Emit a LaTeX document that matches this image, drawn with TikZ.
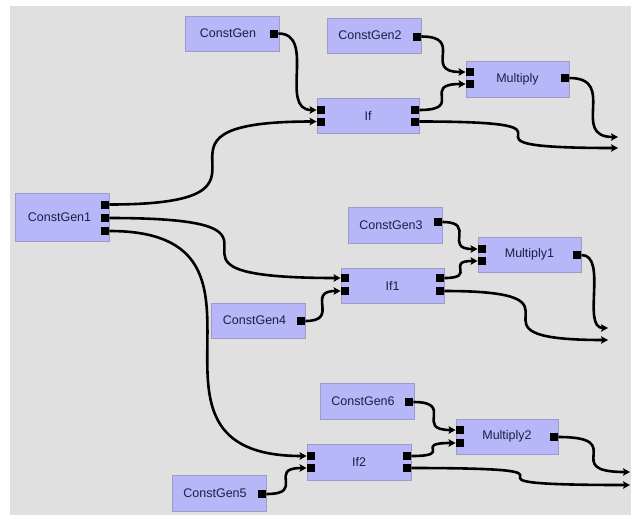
\documentclass[tikz,border=0pt]{standalone}
\usepackage{fontspec}
\setmainfont{Liberation Sans}
\usetikzlibrary{arrows.meta}
\definecolor{canvas}{HTML}{E0E0E0}
\definecolor{boxfill}{HTML}{B6B6F8}
\definecolor{boxedge}{HTML}{9C9CC4}
\definecolor{boxtext}{HTML}{1E1E46}
\tikzset{
  block/.style={rectangle, fill=boxfill, draw=boxedge, line width=0.8pt,
    inner sep=0pt, minimum height=35pt, text=boxtext,
    font=\fontsize{12.5}{14}\selectfont,
    path picture={\draw[white, line width=1.6pt]
      (path picture bounding box.south west) |- (path picture bounding box.north east);}},
  gen/.style={block, minimum width=94pt},
  op/.style={block, minimum width=103pt},
  port/.style={rectangle, fill=black, inner sep=0pt, minimum width=8.5pt, minimum height=8pt},
  wire/.style={draw=black, line width=2.6pt,
    -{Stealth[length=7pt, width=7.5pt, inset=1.5pt]},
    to path={.. controls (\tikztostart -| \tikztotarget) and (\tikztostart |- \tikztotarget) .. (\tikztotarget) \tikztonodes}}
}
\begin{document}
\begin{tikzpicture}[x=1pt, y=-1pt]
  \useasboundingbox (0,0) rectangle (631,515);
  \fill[canvas] (10,6) rectangle (631,515);

  % top group
  \node[gen] (cg) at (232,33.5) {\hspace*{-8pt}ConstGen};
  \node[port] (cg-o) at (274,33.5) {};
  \node[gen, minimum height=48pt] (cg1) at (62.5,217) {\hspace*{-6pt}ConstGen1};
  \node[port] (cg1-o1) at (105,204.5) {};
  \node[port] (cg1-o2) at (105,218) {};
  \node[port] (cg1-o3) at (105,231) {};
  \node[op, minimum width=102pt] (if) at (368,116) {If};
  \node[port] (if-i1) at (321,110) {};
  \node[port] (if-i2) at (321,121.5) {};
  \node[port] (if-o1) at (415,110) {};
  \node[port] (if-o2) at (415,121.5) {};
  \node[gen] (cg2) at (374,35.5) {\hspace*{-8pt}ConstGen2};
  \node[port] (cg2-o) at (417,36.5) {};
  \node[op, minimum height=36pt] (mul) at (517.5,79) {Multiply};
  \node[port] (mul-i1) at (470,72) {};
  \node[port] (mul-i2) at (470,84) {};
  \node[port] (mul-o) at (565,78) {};
  \coordinate (out1) at (618,137);
  \coordinate (out2) at (618,148);

  % middle group
  \node[gen, minimum height=36pt] (cg3) at (395,225) {\hspace*{-8pt}ConstGen3};
  \node[port] (cg3-o) at (438,222) {};
  \node[op] (mul1) at (529.5,254.5) {Multiply1};
  \node[port] (mul1-i1) at (482,249) {};
  \node[port] (mul1-i2) at (482,261) {};
  \node[port] (mul1-o) at (577,255) {};
  \node[op] (if1) at (392.5,285.5) {If1};
  \node[port] (if1-i1) at (345,278) {};
  \node[port] (if1-i2) at (345,291) {};
  \node[port] (if1-o1) at (440,278) {};
  \node[port] (if1-o2) at (440,291) {};
  \node[gen] (cg4) at (258.5,320.5) {\hspace*{-8pt}ConstGen4};
  \node[port] (cg4-o) at (301,321) {};
  \coordinate (out3) at (608,328);
  \coordinate (out4) at (608,340);

  % bottom group
  \node[gen, minimum height=36pt] (cg6) at (367,401) {\hspace*{-8pt}ConstGen6};
  \node[port] (cg6-o) at (409,402) {};
  \node[op, minimum width=102pt] (mul2) at (507,436.5) {Multiply2};
  \node[port] (mul2-i1) at (460,430) {};
  \node[port] (mul2-i2) at (460,443) {};
  \node[port] (mul2-o) at (554,437) {};
  \node[op, minimum width=104pt, minimum height=36pt] (if2) at (359,462) {If2};
  \node[port] (if2-i1) at (311,456) {};
  \node[port] (if2-i2) at (311,468) {};
  \node[port] (if2-o1) at (407,456) {};
  \node[port] (if2-o2) at (407,468) {};
  \node[gen, minimum height=36pt] (cg5) at (219,493) {\hspace*{-8pt}ConstGen5};
  \node[port] (cg5-o) at (262,494) {};
  \coordinate (out5) at (630,472);
  \coordinate (out6) at (630,485);

  % connectors
  \draw[wire] (cg-o.east) to (if-i1.west);
  \draw[wire] (cg1-o1.east) to (if-i2.west);
  \draw[wire] (cg2-o.east) to (mul-i1.west);
  \draw[wire] (if-o1.east) to (mul-i2.west);
  \draw[wire] (mul-o.east) to (out1);
  \draw[wire] (if-o2.east) to (out2);

  \draw[wire] (cg1-o2.east) to (if1-i1.west);
  \draw[wire] (cg4-o.east) to (if1-i2.west);
  \draw[wire] (cg3-o.east) to (mul1-i1.west);
  \draw[wire] (if1-o1.east) to (mul1-i2.west);
  \draw[wire] (mul1-o.east) to (out3);
  \draw[wire] (if1-o2.east) to (out4);

  \draw[wire] (cg1-o3.east) to (if2-i1.west);
  \draw[wire] (cg5-o.east) to (if2-i2.west);
  \draw[wire] (cg6-o.east) to (mul2-i1.west);
  \draw[wire] (if2-o1.east) to (mul2-i2.west);
  \draw[wire] (mul2-o.east) to (out5);
  \draw[wire] (if2-o2.east) to (out6);
\end{tikzpicture}
\end{document}
